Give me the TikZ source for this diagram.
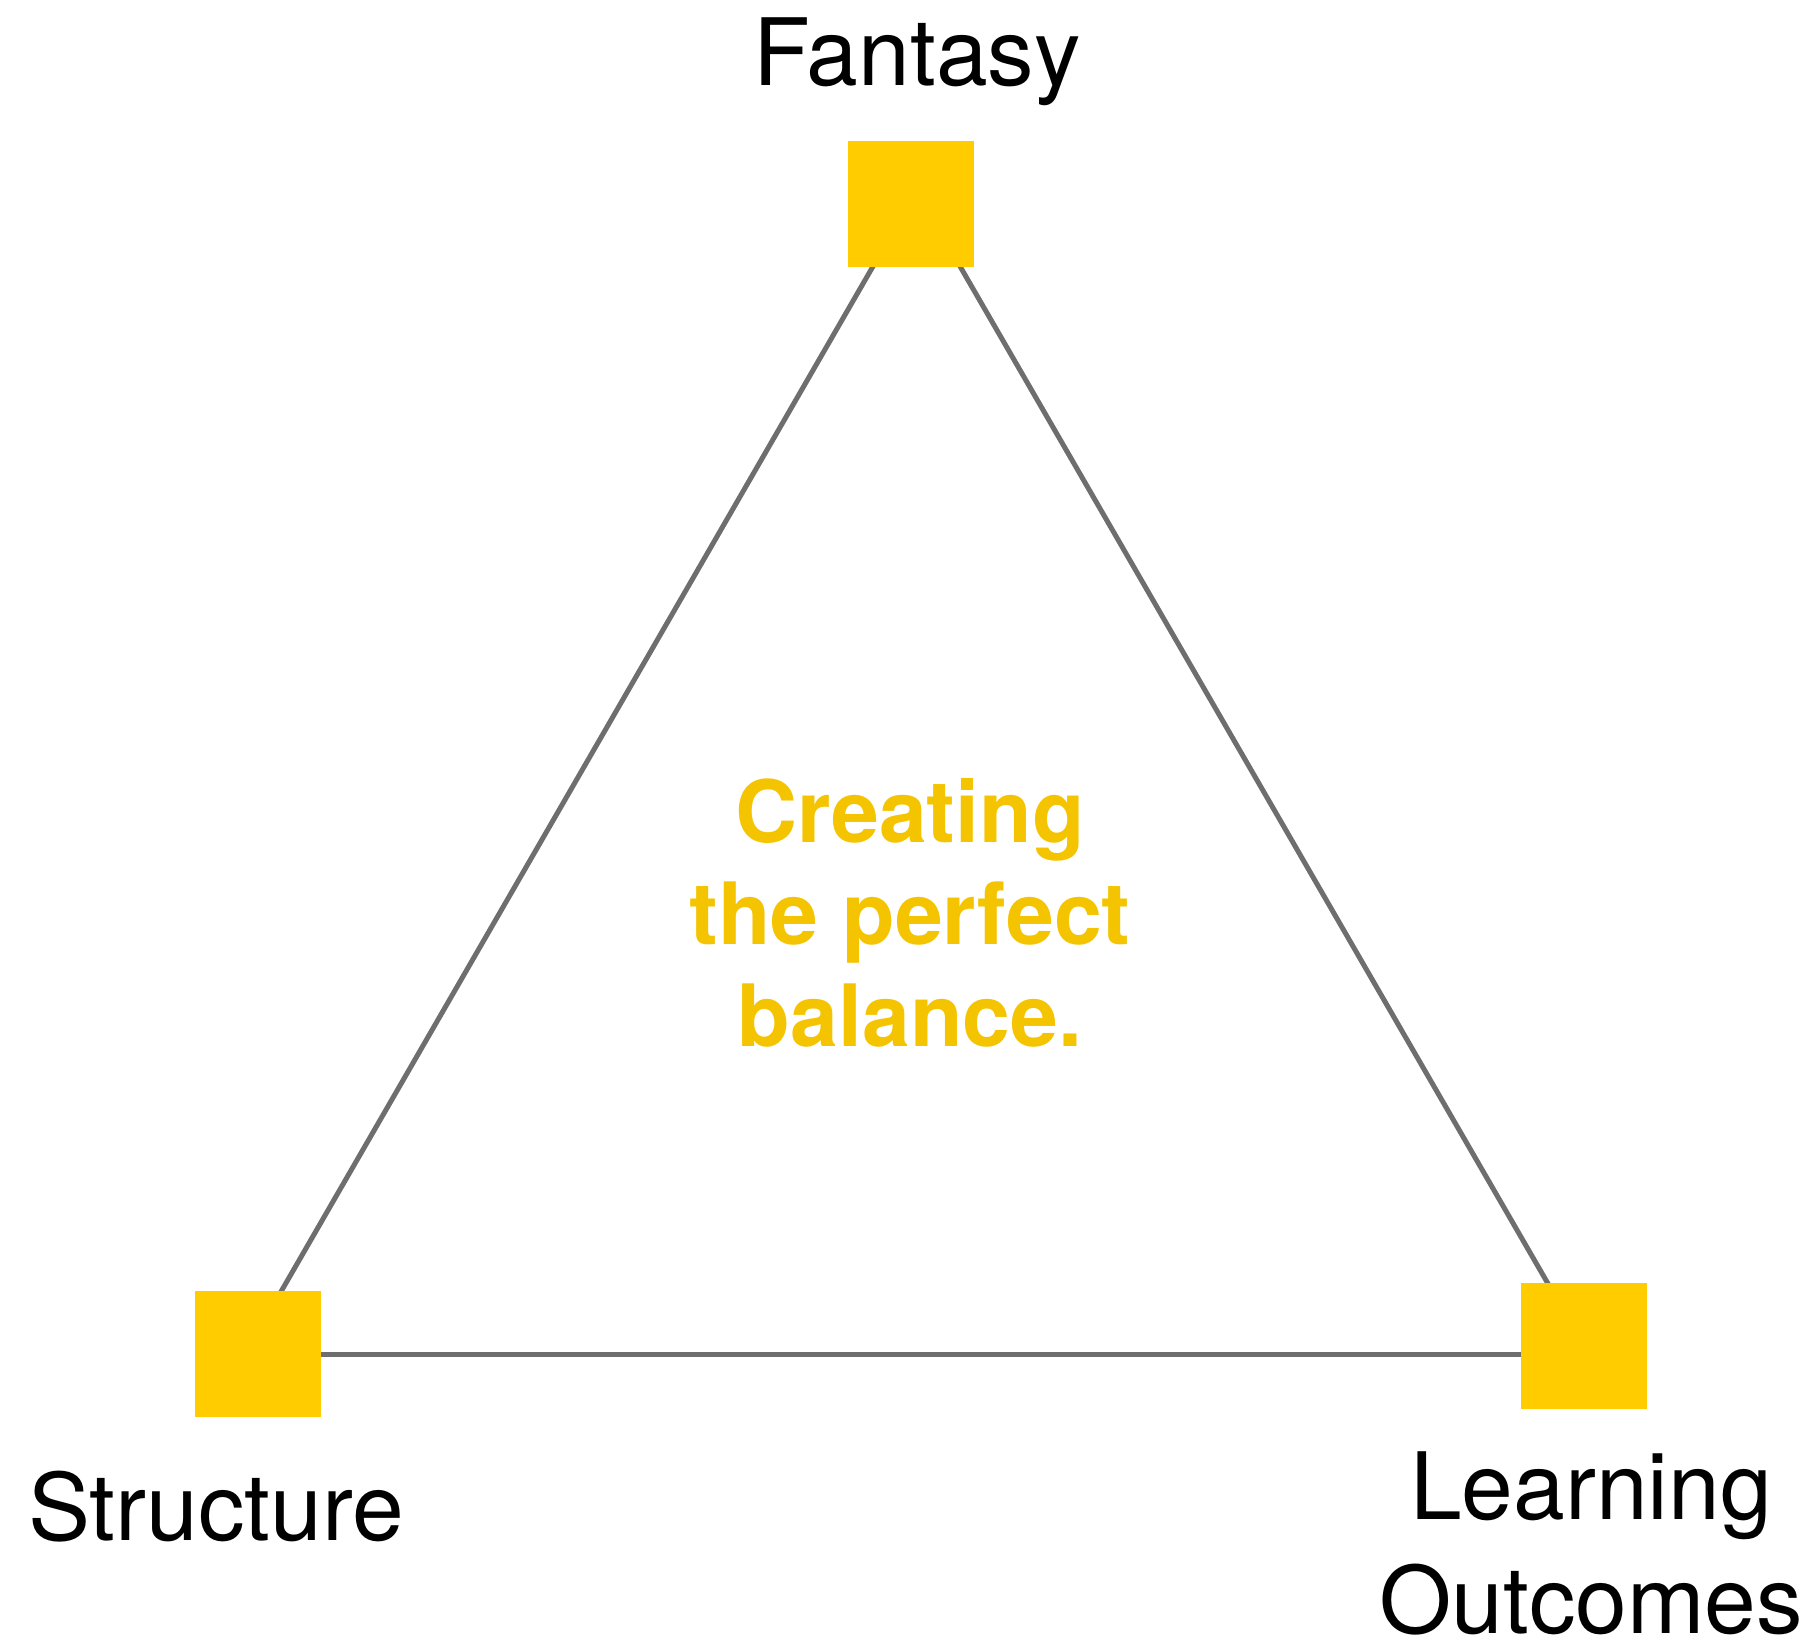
\documentclass[tikz,border=0pt]{standalone}
\usepackage{fontspec}
\setmainfont{TeX Gyre Heros}
\definecolor{sqyellow}{HTML}{FFCC00}
\definecolor{txtyellow}{HTML}{F5C400}
\definecolor{edgegray}{HTML}{6E6E6E}
\tikzset{
  sq/.style={fill=sqyellow, draw=none, minimum size=126pt, inner sep=0pt},
  edge/.style={draw=edgegray, line width=5pt},
  lbl/.style={font=\fontsize{93}{114}\selectfont, text=black, inner sep=0pt, align=center},
  midtext/.style={font=\fontsize{86}{102}\selectfont\bfseries, text=txtyellow, inner sep=0pt, align=center}
}
\begin{document}
\begin{tikzpicture}[x=1pt,y=-1pt]
\fill[white] (0,0) rectangle (1814,1643);
\useasboundingbox (0,0) rectangle (1814,1643);
\coordinate (Fc) at (911,204);
\coordinate (Sc) at (258,1354);
\coordinate (Lc) at (1584,1346);
\draw[edge] ([xshift=-2pt]Fc) -- ([xshift=-13pt]Sc);
\draw[edge] ([xshift=13pt]Fc) -- (Lc);
\draw[edge] (Sc) -- (Sc -| Lc);
\node[sq] (F) at (Fc) {};
\node[sq] (S) at (Sc) {};
\node[sq] (L) at (Lc) {};
\node[lbl, anchor=base] (tF) at (917,86) {Fantasy};
\node[lbl, anchor=base] (tS) at (216,1540) {Structure};
\node[lbl, anchor=base] (tL) at (1591,1633) {Learning\\Outcomes};
\node[midtext, anchor=base] (tC) at (910,1046) {Creating\\the perfect\\balance.};
\end{tikzpicture}
\end{document}
